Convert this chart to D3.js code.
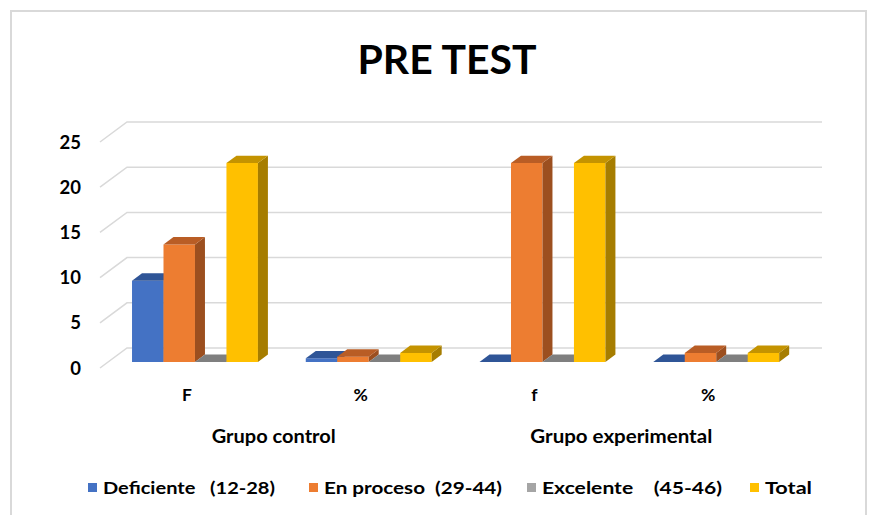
<!DOCTYPE html>
<html>
<head>
<meta charset="utf-8">
<script src="https://cdn.jsdelivr.net/npm/d3@7"></script>
<style>
body{margin:0;background:#fff;}
text{font-family:Lato,"Liberation Sans",Arial,sans-serif;font-weight:bold;fill:#000;}
</style>
</head>
<body>
<script>
// chart values
var categories = ["F", "%", "f", "%"];
var groups = ["Grupo control", "Grupo experimental"];
var seriesNames = ["Deficiente   (12-28)", "En proceso  (29-44)", "Excelente    (45-46)", "Total"];
var deficiente = [9, 0.41, 0, 0];
var enProceso = [13, 0.59, 22, 1];
var excelente = [0, 0, 0, 0];
var total = [22, 1, 22, 1];
var yTicks = [0, 5, 10, 15, 20, 25];

var seriesValues = [deficiente, enProceso, excelente, total];
var front = ["#4472c4", "#ed7d31", "#a5a5a5", "#ffc000"];
var top_ = ["#2f5597", "#b95d25", "#7f7f7f", "#c49300"];
var side = ["#2f5290", "#9c4f1f", "#6e6e6e", "#a67d00"];

var width = 872, height = 515;
var svg = d3.select("body").append("svg").attr("width", width).attr("height", height);

svg.append("rect").attr("x", 11).attr("y", 11).attr("width", 855).attr("height", 520)
    .attr("fill", "none").attr("stroke", "#d9d9d9").attr("stroke-width", 2);

// 3d: depth vector for full floor depth
var DX = 27, DY = -20;
var dFront = 0.3, dBack = 0.67;

var x0 = d3.scaleBand().domain(d3.range(categories.length)).range([100, 795]);
var x1 = d3.scaleBand().domain(d3.range(seriesNames.length)).range([0, x0.bandwidth()]).paddingOuter(0.76);
var y = d3.scaleLinear().domain([0, 25]).range([368, 142]);

function pt(x, v, d) { return [x + d * DX, y(v) + d * DY]; }
function poly(ps) { return ps.map(function(p){ return p.join(","); }).join(" "); }

// gridlines: back wall + side wall
var grid = svg.append("g");
yTicks.forEach(function(t){
  var a = pt(x0.range()[0], t, 0), b = pt(x0.range()[0], t, 1), c = pt(x0.range()[1], t, 1);
  grid.append("polyline").attr("points", poly([a, b, c]))
    .attr("fill", "none").attr("stroke", "#d9d9d9").attr("stroke-width", 1.5);
});

// y labels
svg.append("g").selectAll("text").data(yTicks).join("text")
  .attr("x", 81).attr("y", function(d){ return y(d); }).attr("dy", "0.36em")
  .attr("text-anchor", "end").attr("font-size", 18.5).text(function(d){ return d; });

// bars
var bars = svg.append("g");
categories.forEach(function(c, ci){
  seriesValues.forEach(function(vals, si){
    var v = vals[ci];
    var xa = x0(ci) + x1(si), xb = xa + x1.bandwidth();
    var g = bars.append("g");
    if (v > 0) {
      g.append("polygon").attr("points", poly([pt(xa, 0, dFront), pt(xb, 0, dFront), pt(xb, v, dFront), pt(xa, v, dFront)]))
        .attr("fill", front[si]);
      g.append("polygon").attr("points", poly([pt(xb, 0, dFront), pt(xb, 0, dBack), pt(xb, v, dBack), pt(xb, v, dFront)]))
        .attr("fill", side[si]);
    }
    g.append("polygon").attr("points", poly([pt(xa, v, dFront), pt(xb, v, dFront), pt(xb, v, dBack), pt(xa, v, dBack)]))
      .attr("fill", top_[si]);
  });
});

// category labels
svg.append("g").selectAll("text").data(categories).join("text")
  .attr("x", function(d, i){ return x0(i) + x0.bandwidth() / 2; }).attr("y", 401)
  .attr("text-anchor", "middle").attr("font-size", 17.5).text(function(d){ return d; });

// group labels
var groupW = [124, 182];
svg.append("g").selectAll("text").data(groups).join("text")
  .attr("x", function(d, i){ return x0(i * 2) + x0.bandwidth() - groupW[i] / 2; }).attr("y", 443)
  .attr("font-size", 18)
  .attr("textLength", function(d, i){ return groupW[i]; }).attr("lengthAdjust", "spacingAndGlyphs")
  .text(function(d){ return d; });

// title
svg.append("text").attr("x", 447).attr("y", 74).attr("text-anchor", "middle")
  .attr("font-size", 40).attr("textLength", 179).attr("lengthAdjust", "spacingAndGlyphs")
  .text("PRE TEST");

// legend
var legX = [88, 309, 527, 750], legW = [172, 178, 180, 47];
var leg = svg.append("g").selectAll("g").data(seriesNames).join("g")
  .attr("transform", function(d, i){ return "translate(" + legX[i] + ",483)"; });
leg.append("rect").attr("width", 9).attr("height", 9).attr("fill", function(d, i){ return front[i]; });
leg.append("text").attr("x", 15).attr("y", 11).attr("font-size", 17)
  .style("white-space", "pre")
  .attr("textLength", function(d, i){ return legW[i]; }).attr("lengthAdjust", "spacingAndGlyphs")
  .text(function(d){ return d; });
</script>
</body>
</html>
